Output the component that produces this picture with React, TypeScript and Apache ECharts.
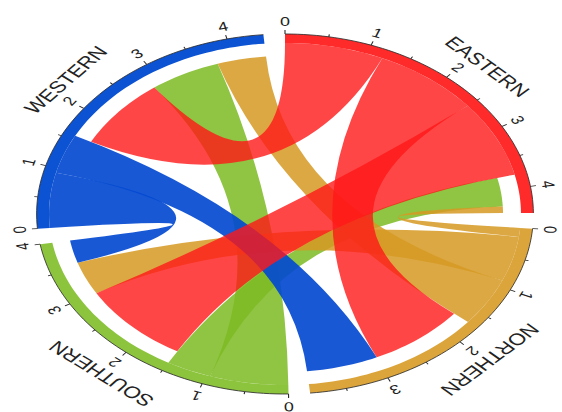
import React, { useEffect, useRef } from 'react';
import * as echarts from 'echarts';

// Regions around the circle, clockwise from twelve o'clock
const regions = ['EASTERN', 'NORTHERN', 'SOUTHERN', 'WESTERN'];
const ringColors = ['#FF2A2A', '#DCA53B', '#8DC43E', '#0B53D3'];
const ribbonColors = [
  'rgba(255,24,24,0.8)',
  'rgba(214,154,36,0.86)',
  'rgba(126,186,36,0.86)',
  'rgba(4,74,208,0.92)',
];

// Flows: origin, destination, width at the origin end, width at the destination end
const linkFrom = ['EASTERN', 'EASTERN', 'EASTERN', 'NORTHERN', 'NORTHERN', 'NORTHERN', 'SOUTHERN', 'SOUTHERN', 'WESTERN', 'WESTERN'];
const linkTo = ['WESTERN', 'NORTHERN', 'SOUTHERN', 'EASTERN', 'SOUTHERN', 'WESTERN', 'WESTERN', 'EASTERN', 'SOUTHERN', 'NORTHERN'];
const linkOut = [1.2, 1.3, 1.28, 0.15, 0.75, 0.8, 0.95, 0.55, 0.92, 0.65];
const linkIn = [1.28, 1.28, 1.49, 0.12, 0.6, 0.64, 0.93, 0.52, 0.41, 0.94];

// Stacking order of the incoming ribbons on each region's arc
const incomingOrder = [
  ['SOUTHERN', 'NORTHERN'],
  ['EASTERN', 'WESTERN'],
  ['EASTERN', 'NORTHERN', 'WESTERN'],
  ['EASTERN', 'SOUTHERN', 'NORTHERN'],
];
// Ribbons are painted origin by origin in this order
const paintOrder = ['SOUTHERN', 'NORTHERN', 'WESTERN', 'EASTERN'];

// Geometry (radius units of the polar system)
const GAP = 0.246;
const CX = 285;
const CY = 214;
const SX = 1.38;
const R_RING_IN = 171;
const R_RING_OUT = 180;
const R_SRC = 171;
const R_TGT = 158;
const R_TICK_MAJOR = 184;
const R_TICK_MINOR = 182.5;
const R_TICK_LABEL = 193;
const R_NAME = 208;
const FONT = "'Liberation Sans', Arial, Helvetica, sans-serif";

const regionTotal = regions.map((r) => {
  let t = 0;
  linkFrom.forEach((f, i) => { if (f === r) t += linkOut[i]; });
  linkTo.forEach((d, i) => { if (d === r) t += linkIn[i]; });
  return t;
});
const regionStart: number[] = [];
let acc = 0;
regionTotal.forEach((t, g) => { regionStart[g] = acc; acc += t + GAP; });
const SPAN = acc;

const srcStart: number[] = [];
const tgtStart: number[] = [];
regions.forEach((r, g) => {
  let pos = regionStart[g];
  linkFrom.forEach((f, i) => {
    if (f === r) { srcStart[i] = pos; pos += linkOut[i]; }
  });
  incomingOrder[g].forEach((src) => {
    const i = linkFrom.findIndex((f, k) => f === src && linkTo[k] === r);
    tgtStart[i] = pos;
    pos += linkIn[i];
  });
});

const chordOrder: number[] = [];
paintOrder.forEach((r) => linkFrom.forEach((f, i) => { if (f === r) chordOrder.push(i); }));

type Coord = (v: number[]) => number[];

function arcPoints(coord: Coord, r: number, v0: number, v1: number) {
  const n = Math.max(2, Math.ceil(Math.abs(v1 - v0) * 14));
  const pts: number[][] = [];
  for (let k = 0; k <= n; k++) pts.push(coord([r, v0 + ((v1 - v0) * k) / n]));
  return pts;
}

const f = (p: number[]) => `${p[0].toFixed(2)},${p[1].toFixed(2)}`;

function stretched(children: any[]) {
  return { type: 'group', originX: CX, originY: CY, scaleX: SX, scaleY: 1, children };
}

export default function App() {
  const ref = useRef<HTMLDivElement>(null);

  useEffect(() => {
    document.body.style.margin = '0';
    if (!ref.current) return;
    const chart = echarts.init(ref.current, undefined, { renderer: 'svg' });

    const ringSeries = {
      type: 'custom',
      coordinateSystem: 'polar',
      data: regions.map(() => [0, 0]),
      z: 1,
      renderItem: (params: any, api: any) => {
        const g = params.dataIndex;
        const coord: Coord = (v) => api.coord(v);
        const v0 = regionStart[g];
        const v1 = v0 + regionTotal[g];
        const outer = arcPoints(coord, R_RING_OUT, v0, v1);
        const inner = arcPoints(coord, R_RING_IN, v0, v1).reverse();
        let d = 'M' + f(outer[0]);
        outer.slice(1).forEach((p) => { d += 'L' + f(p); });
        inner.forEach((p) => { d += 'L' + f(p); });
        d += 'Z';
        const children: any[] = [
          { type: 'path', shape: { pathData: d }, style: { fill: ringColors[g] } },
          {
            type: 'polyline',
            shape: { points: outer },
            style: { stroke: '#2a2a2a', lineWidth: 0.7, fill: 'none' },
          },
        ];
        for (let k = 0; k <= regionTotal[g] + 1e-6; k += 0.5) {
          const major = Math.abs(k - Math.round(k)) < 1e-6;
          const p0 = coord([R_RING_OUT, v0 + k]);
          const p1 = coord([major ? R_TICK_MAJOR : R_TICK_MINOR, v0 + k]);
          children.push({
            type: 'line',
            shape: { x1: p0[0], y1: p0[1], x2: p1[0], y2: p1[1] },
            style: { stroke: '#2a2a2a', lineWidth: 0.8 },
          });
          if (major) {
            const pl = coord([R_TICK_LABEL, v0 + k]);
            children.push({
              type: 'text',
              x: pl[0],
              y: pl[1],
              rotation: (-(v0 + k) * 2 * Math.PI) / SPAN,
              style: {
                text: String(Math.round(k)),
                fontSize: 13,
                fontFamily: FONT,
                fill: '#222',
                align: 'center',
                verticalAlign: 'middle',
              },
            });
          }
        }
        const mid = v0 + regionTotal[g] / 2;
        const pn = coord([R_NAME, mid]);
        children.push({
          type: 'text',
          x: pn[0],
          y: pn[1],
          rotation: (-mid * 2 * Math.PI) / SPAN,
          style: {
            text: regions[g],
            fontSize: 16.5,
            fontFamily: FONT,
            fill: '#222',
            align: 'center',
            verticalAlign: 'middle',
          },
        });
        return stretched(children);
      },
    };

    const chordSeries = {
      type: 'custom',
      coordinateSystem: 'polar',
      data: chordOrder.map(() => [0, 0]),
      z: 2,
      renderItem: (params: any, api: any) => {
        const i = chordOrder[params.dataIndex];
        const coord: Coord = (v) => api.coord(v);
        const a0 = srcStart[i];
        const a1 = a0 + linkOut[i];
        const b0 = tgtStart[i];
        const b1 = b0 + linkIn[i];
        const s = arcPoints(coord, R_SRC, a0, a1);
        const t = arcPoints(coord, R_TGT, b0, b1);
        const c = coord([0, 0]);
        let d = 'M' + f(s[0]);
        s.slice(1).forEach((p) => { d += 'L' + f(p); });
        d += 'Q' + f(c) + ' ' + f(t[0]);
        t.slice(1).forEach((p) => { d += 'L' + f(p); });
        d += 'Q' + f(c) + ' ' + f(s[0]) + 'Z';
        const g = regions.indexOf(linkFrom[i]);
        return stretched([
          { type: 'path', shape: { pathData: d }, style: { fill: ribbonColors[g] } },
        ]);
      },
    };

    chart.setOption({
      animation: false,
      polar: { center: [CX, CY], radius: 230 },
      angleAxis: { type: 'value', min: 0, max: SPAN, startAngle: 90, clockwise: true, show: false },
      radiusAxis: { type: 'value', min: 0, max: 230, show: false },
      series: [ringSeries, chordSeries],
    });

    return () => chart.dispose();
  }, []);

  return <div ref={ref} style={{ width: 562, height: 412 }} />;
}
